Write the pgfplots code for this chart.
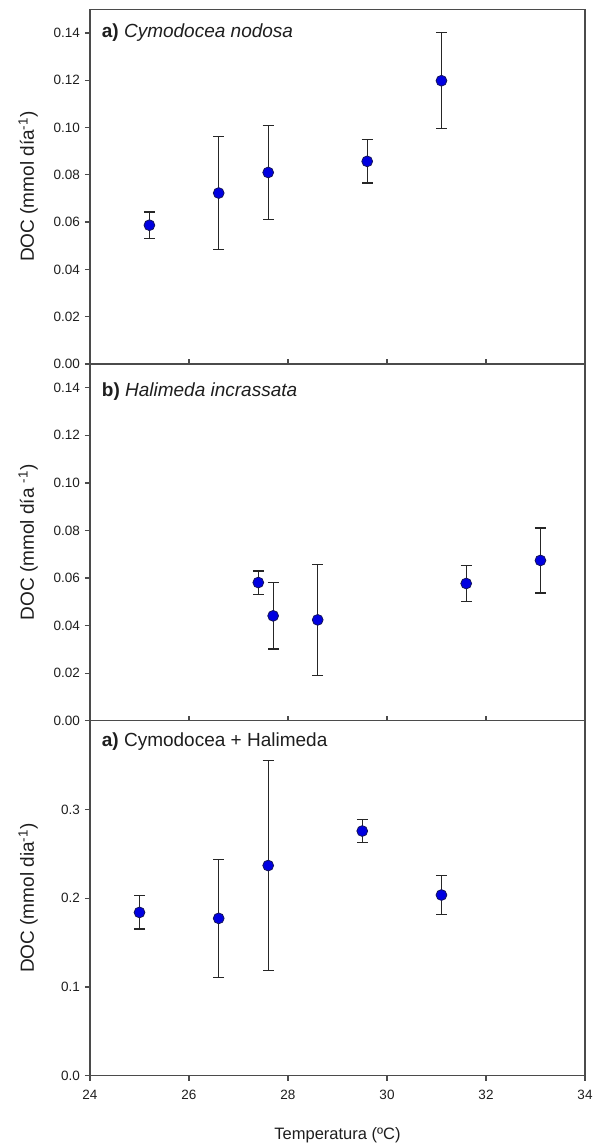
\documentclass[border=0pt]{standalone}
\usepackage{fontspec}
\setmainfont{Liberation Sans}
\usepackage{pgfplots}
\pgfplotsset{compat=1.18}
\usepackage{pgfplotstable}

\definecolor{axisgray}{RGB}{75,75,75}
\definecolor{ptfill}{RGB}{0,0,225}
\definecolor{ptdraw}{RGB}{20,20,90}
\definecolor{txt}{RGB}{30,30,30}

% DOC release (mean and error) against temperature
\pgfplotstableread{
x    y      e
25.2 0.0587 0.0056
26.6 0.0723 0.0238
27.6 0.0810 0.0200
29.6 0.0857 0.0092
31.1 0.1198 0.0203
}\cymodocea

\pgfplotstableread{
x    y      e
27.4 0.0581 0.0049
27.7 0.0441 0.0140
28.6 0.0424 0.0233
31.6 0.0577 0.0077
33.1 0.0674 0.0137
}\halimeda

\pgfplotstableread{
x    y      e
25.0 0.1840 0.0187
26.6 0.1773 0.0666
27.6 0.2368 0.1180
29.5 0.2757 0.0127
31.1 0.2036 0.0217
}\mixed

\tikzset{paneltitle/.style={anchor=base west, font=\fontsize{19}{22}\selectfont,
  text=txt, inner sep=0pt}}

\pgfplotsset{
  panel/.style={
    scale only axis, width=495pt,
    xmin=24, xmax=34, xtick={24,26,...,34},
    ymin=0,
    tick pos=left, tick align=outside,
    major tick length=5pt,
    axis line style={axisgray, line width=1.3pt},
    every tick/.append style={axisgray, line width=1.3pt},
    tick label style={font=\fontsize{13.5}{16}\selectfont, text=txt},
    /pgf/number format/assume math mode=true,
    yticklabel style={xshift=-1.5pt},
    every axis y label/.style={at={(axis description cs:-0.125,0.5)}, rotate=90,
      anchor=center, font=\fontsize{19}{22}\selectfont, text=txt},
    clip=false,
  },
  toppanel/.style={
    panel, xticklabels={}, x tick style={yshift=5pt},
    ymax=0.15, ytick={0,0.02,...,0.141},
    yticklabel style={/pgf/number format/.cd, fixed, fixed zerofill, precision=2},
  },
  pts/.style={only marks, mark=*, mark size=5.4pt,
    mark options={fill=ptfill, draw=ptdraw, line width=0.8pt},
    error bars/.cd, y dir=both, y explicit,
    error bar style={line width=1.3pt, black!85},
    error mark options={rotate=90, mark size=5.5pt, line width=1.3pt, black!85}},
}

\begin{document}
\begin{tikzpicture}
\path[use as bounding box] (0,0) rectangle (593pt,-1144pt);

% a) Cymodocea nodosa
\begin{axis}[toppanel, at={(90pt,-364pt)}, anchor=south west, height=354.7pt,
  ylabel={DOC (mmol día\textsuperscript{-1})}]
  \addplot+[pts] table[x=x, y=y, y error=e] {\cymodocea};
  \node[paneltitle, xshift=11.7pt, yshift=-28pt] at (rel axis cs:0,1)
    {\textbf{a)} \textit{Cymodocea nodosa}};
\end{axis}

% b) Halimeda incrassata
\begin{axis}[toppanel, at={(90pt,-720.7pt)}, anchor=south west, height=356.7pt,
  ylabel={DOC (mmol día \textsuperscript{-1})}]
  \addplot+[pts] table[x=x, y=y, y error=e] {\halimeda};
  \node[paneltitle, xshift=11.7pt, yshift=-32pt] at (rel axis cs:0,1)
    {\textbf{b)} \textit{Halimeda incrassata}};
\end{axis}

% Cymodocea + Halimeda
\begin{axis}[panel, at={(90pt,-1075.7pt)}, anchor=south west, height=355pt,
  ymax=0.4, ytick={0,0.1,0.2,0.3},
  yticklabel style={/pgf/number format/.cd, fixed, fixed zerofill, precision=1},
  xticklabel style={yshift=-6pt},
  every axis x label/.style={at={(axis description cs:0.5,0)}, anchor=base,
    yshift=-64pt, font=\fontsize{16.5}{20}\selectfont, text=txt},
  xlabel={Temperatura (ºC)},
  ylabel={DOC (mmol dia\textsuperscript{-1})}]
  \addplot+[pts] table[x=x, y=y, y error=e] {\mixed};
  \node[paneltitle, xshift=11.7pt, yshift=-26pt] at (rel axis cs:0,1)
    {\textbf{a)} Cymodocea + Halimeda};
\end{axis}
\end{tikzpicture}
\end{document}
